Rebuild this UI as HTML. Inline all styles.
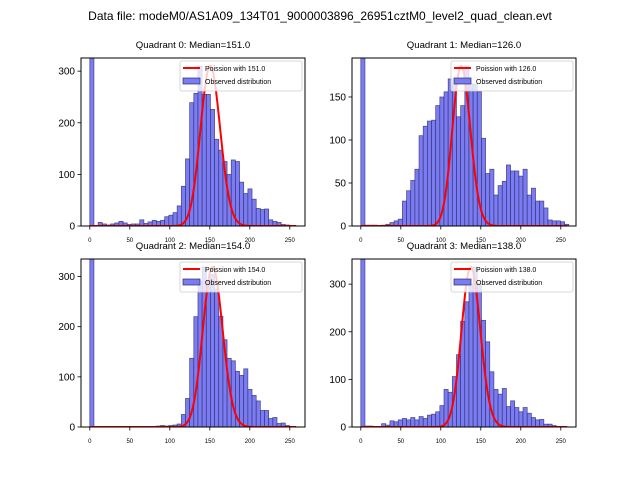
<!DOCTYPE html>
<html><head><meta charset="utf-8"><style>
body{margin:0;background:#fff;}
svg{display:block;font-family:"Liberation Sans","DejaVu Sans",sans-serif;}
</style></head><body>
<svg id="fig" width="640" height="480" viewBox="0 0 640 480">
<rect width="640" height="480" fill="#fff"/>
<text x="320" y="20" text-anchor="middle" font-size="12">Data file: modeM0/AS1A09_134T01_9000003896_26951cztM0_level2_quad_clean.evt</text>
</svg>
<script>
const binWidth = 5.2;
const medians = [151.0, 126.0, 154.0, 138.0];
const xTicks = [0, 50, 100, 150, 200, 250];
const yTicks0 = [0, 100, 200, 300];
const yTicks1 = [0, 50, 100, 150];
const yTicks2 = [0, 100, 200, 300];
const yTicks3 = [0, 100, 200, 300];
const counts0 = [3000,0,7,4,2,4,6,9,6,3,4,4,12,5,8,11,9,11,18,21,26,39,77,130,239,257,310,255,255,226,168,147,125,100,128,125,85,63,72,52,34,32,33,12,9,7,3,2,1,0];
const counts1 = [3000,1,1,1,0,1,2,4,6,8,29,41,53,66,105,116,122,123,140,150,156,171,164,127,140,186,165,165,156,102,61,66,36,47,52,71,64,64,58,66,36,44,29,29,21,7,6,6,5,2];
const counts2 = [3000,0,0,0,0,0,0,0,0,0,0,0,0,0,0,0,2,3,2,3,4,6,25,57,137,220,291,319,291,304,275,221,174,137,132,111,103,116,75,63,52,33,33,17,19,7,8,3,0,0];
const counts3 = [3000,2,2,1,1,7,4,13,11,15,18,15,20,15,22,18,25,27,32,45,79,73,106,152,222,263,300,336,301,224,179,116,79,69,81,43,55,41,32,41,29,20,15,16,6,6,3,1,0,0];

const NS = "http://www.w3.org/2000/svg";
const svg = document.getElementById('fig');
function mk(tag, attrs, parent){const e=document.createElementNS(NS,tag);for(const k in attrs)e.setAttribute(k,attrs[k]);(parent||svg).appendChild(e);return e;}
function lgammaInt(n){let s=0;for(let i=2;i<=n;i++)s+=Math.log(i);return s;}

const BAR_FILL='#7b7bf2', BAR_EDGE='#2b2b6b';
const panels = [
 {L:81,T:58,counts:counts0,yTicks:yTicks0},
 {L:352,T:58,counts:counts1,yTicks:yTicks1},
 {L:81,T:259,counts:counts2,yTicks:yTicks2},
 {L:352,T:259,counts:counts3,yTicks:yTicks3}
];
const W=224,H=168;
panels.forEach((p,q)=>{
  const nb=p.counts.length, xmaxData=nb*binWidth;
  const x0=-11, x1=269;
  let peak=0; for(let i=1;i<nb;i++) peak=Math.max(peak,p.counts[i]);
  const ymax=1.05*peak;
  const X=v=>p.L+(v-x0)/(x1-x0)*W;
  const Y=v=>p.T+H-v/ymax*H;
  const g=mk('g',{});
  
  
  const cp=mk('clipPath',{id:'clip'+q},g);
  mk('rect',{x:p.L,y:p.T,width:W,height:H},cp);
  const t=mk('text',{x:p.L+W/2,y:p.T-10,'text-anchor':'middle','font-size':'9.6'},g);
  t.textContent='Quadrant '+q+': Median='+medians[q].toFixed(1);
  
  
  const bars=mk('g',{'clip-path':'url(#clip'+q+')'},g);
  p.counts.forEach((c,i)=>{
    if(c<=0) return;
    const r=mk('rect',{x:X(i*binWidth),y:Y(c),width:X(binWidth)-X(0),height:Y(0)-Y(c),fill:BAR_FILL,stroke:BAR_EDGE,'stroke-width':'0.7','stroke-opacity':'0.8'},bars);
    
    
  });
  const lam=medians[q];
  let pts=[],pmax=0,vals=[];
  for(let k=0;k<=Math.floor(xmaxData)-2;k++){const v=Math.exp(k*Math.log(lam)-lam-lgammaInt(k));vals.push(v);pmax=Math.max(pmax,v);}
  vals.forEach((v,k)=>pts.push(X(k).toFixed(2)+','+Y(v/pmax*peak).toFixed(2)));
  const pl=mk('polyline',{points:pts.join(' '),fill:'none',stroke:'#ff0000','stroke-width':'2','stroke-linejoin':'round','clip-path':'url(#clip'+q+')'},g);
  
  
  mk('rect',{x:p.L,y:p.T,width:W,height:H,fill:'none',stroke:'#000','stroke-width':'1'},g);
  xTicks.forEach(v=>{
    mk('line',{x1:X(v),x2:X(v),y1:p.T+H,y2:p.T+H+3.5,stroke:'#000','stroke-width':'0.8'},g);
    const tx=mk('text',{x:X(v),y:p.T+H+16,'text-anchor':'middle','font-size':'6'},g);
    tx.textContent=v;
    
    
  });
  p.yTicks.forEach(v=>{
    mk('line',{x1:p.L-3.5,x2:p.L,y1:Y(v),y2:Y(v),stroke:'#000','stroke-width':'0.8'},g);
    const ty=mk('text',{x:p.L-6,y:Y(v)+3.5,'text-anchor':'end','font-size':'10'},g);
    ty.textContent=v;
    
    
  });
  const lg=mk('g',{},g);
  
  
  const lx=p.L+W-125, ly=p.T+3;
  mk('rect',{x:lx,y:ly,width:122,height:30,rx:2,fill:'rgba(255,255,255,0.8)',stroke:'#ccc','stroke-width':'0.8'},lg);
  mk('line',{x1:lx+3,x2:lx+20,y1:ly+7,y2:ly+7,stroke:'#ff0000','stroke-width':'2'},lg);
  mk('rect',{x:lx+3,y:ly+17,width:17,height:6,fill:BAR_FILL,stroke:BAR_EDGE,'stroke-width':'0.7'},lg);
  const l1=mk('text',{x:lx+25,y:ly+10,'font-size':'7'},lg);
  l1.textContent='Poission with '+lam.toFixed(1);
  
  
  const l2=mk('text',{x:lx+25,y:ly+23,'font-size':'7'},lg);
  l2.textContent='Observed distribution';
  
  
});
</script>
</body></html>
